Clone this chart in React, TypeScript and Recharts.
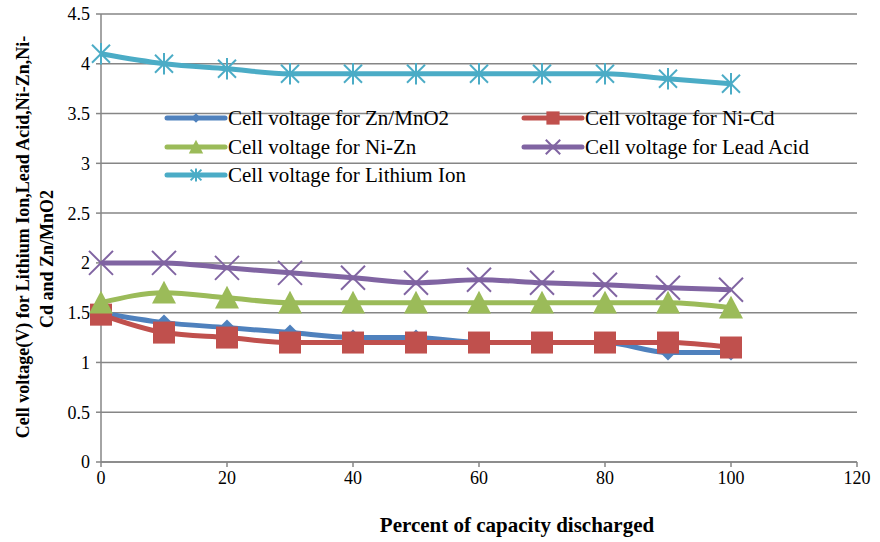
import { LineChart, Line, XAxis, YAxis, CartesianGrid } from 'recharts';

const percent = [0, 10, 20, 30, 40, 50, 60, 70, 80, 90, 100];
const znMnO2 = [1.5, 1.4, 1.35, 1.3, 1.25, 1.25, 1.2, 1.2, 1.2, 1.1, 1.1];
const niCd = [1.48, 1.3, 1.25, 1.2, 1.2, 1.2, 1.2, 1.2, 1.2, 1.2, 1.15];
const niZn = [1.6, 1.7, 1.65, 1.6, 1.6, 1.6, 1.6, 1.6, 1.6, 1.6, 1.55];
const leadAcid = [2.0, 2.0, 1.95, 1.9, 1.85, 1.8, 1.83, 1.8, 1.78, 1.75, 1.73];
const lithiumIon = [4.1, 4.0, 3.95, 3.9, 3.9, 3.9, 3.9, 3.9, 3.9, 3.85, 3.8];

const xTicks = [0, 20, 40, 60, 80, 100, 120];
const yTicks = [0, 0.5, 1, 1.5, 2, 2.5, 3, 3.5, 4, 4.5];

const data = percent.map((p, i) => ({
  p,
  zn: znMnO2[i],
  nicd: niCd[i],
  nizn: niZn[i],
  lead: leadAcid[i],
  li: lithiumIon[i],
}));

const FONT = '"Liberation Serif", "Times New Roman", serif';

type Shape = 'diamond' | 'square' | 'triangle' | 'x' | 'star';

const series: { key: string; name: string; color: string; shape: Shape }[] = [
  { key: 'zn', name: 'Cell voltage for Zn/MnO2', color: '#4F81BD', shape: 'diamond' },
  { key: 'nicd', name: 'Cell voltage for Ni-Cd', color: '#C0504D', shape: 'square' },
  { key: 'nizn', name: 'Cell voltage for Ni-Zn', color: '#9BBB59', shape: 'triangle' },
  { key: 'lead', name: 'Cell voltage for Lead Acid', color: '#8064A2', shape: 'x' },
  { key: 'li', name: 'Cell voltage for Lithium Ion', color: '#4BACC6', shape: 'star' },
];

function Marker({ cx, cy, shape, color, s = 1 }: { cx: number; cy: number; shape: Shape; color: string; s?: number }) {
  if (cx == null || cy == null) return null;
  switch (shape) {
    case 'diamond': {
      const r = 8 * s;
      return <polygon points={`${cx},${cy - r} ${cx + r},${cy} ${cx},${cy + r} ${cx - r},${cy}`} fill={color} />;
    }
    case 'square': {
      const r = 11 * s;
      return <rect x={cx - r} y={cy - r} width={r * 2} height={r * 2} fill={color} />;
    }
    case 'triangle': {
      const r = 12 * s;
      return <polygon points={`${cx},${cy - r} ${cx + r},${cy + r * 0.9} ${cx - r},${cy + r * 0.9}`} fill={color} />;
    }
    case 'x': {
      const r = 12 * s;
      return (
        <g stroke={color} strokeWidth={2}>
          <line x1={cx - r} y1={cy - r} x2={cx + r} y2={cy + r} />
          <line x1={cx - r} y1={cy + r} x2={cx + r} y2={cy - r} />
        </g>
      );
    }
    case 'star': {
      const r = 9 * s;
      return (
        <g stroke={color} strokeWidth={2}>
          <line x1={cx - r} y1={cy - r} x2={cx + r} y2={cy + r} />
          <line x1={cx - r} y1={cy + r} x2={cx + r} y2={cy - r} />
          <line x1={cx} y1={cy - r * 1.2} x2={cx} y2={cy + r * 1.2} />
        </g>
      );
    }
  }
  return null;
}

const makeDot = (shape: Shape, color: string) => (props: any) => (
  <Marker key={`${shape}-${props.index}`} cx={props.cx} cy={props.cy} shape={shape} color={color} />
);

// legend sits inside the plot, two columns like the original
const LegendBox = () => {
  const pos = [
    { left: 0, top: 0 },
    { left: 357, top: 0 },
    { left: 0, top: 28.5 },
    { left: 357, top: 28.5 },
    { left: 0, top: 57 },
  ];
  return (
    <div style={{ position: 'absolute', left: 164, top: 105, width: 680, height: 84 }}>
      {series.map((s, i) => (
        <div
          key={s.key}
          style={{ position: 'absolute', left: pos[i].left, top: pos[i].top, height: 26, display: 'flex', alignItems: 'center', whiteSpace: 'nowrap' }}
        >
          <svg width={64} height={24} style={{ display: 'block' }}>
            <line x1={3} y1={12} x2={61} y2={12} stroke={s.color} strokeWidth={5} strokeLinecap="round" />
            <Marker cx={32} cy={12} shape={s.shape} color={s.color} s={0.6} />
          </svg>
          <span style={{ fontFamily: FONT, fontSize: 21, lineHeight: '26px', color: '#000' }}>{s.name}</span>
        </div>
      ))}
    </div>
  );
};

const YLabel = () => (
  <g fontFamily={FONT} fontWeight="bold" fontSize={18} fill="#000">
    <text transform="translate(29,237) rotate(-90)" textAnchor="middle">
      Cell voltage(V) for Lithium Ion,Lead Acid,Ni-Zn,Ni-
    </text>
    <text transform="translate(53,259) rotate(-90)" textAnchor="middle">
      Cd and Zn/MnO2
    </text>
  </g>
);

const XLabel = () => (
  <text x={517} y={532} textAnchor="middle" fontFamily={FONT} fontWeight="bold" fontSize={21} fill="#000">
    Percent of capacity discharged
  </text>
);

export default function App() {
  const tickStyle = { fontFamily: FONT, fontSize: 18, fill: '#000' };
  return (
    <div style={{ position: 'absolute', left: 0, top: 0, width: 880, height: 542, background: '#fff' }}>
      <LineChart width={880} height={542} data={data} margin={{ top: 14, right: 23, bottom: 0, left: 0 }}>
        <CartesianGrid vertical={false} stroke="#868686" strokeWidth={1.5} />
        <XAxis
          dataKey="p"
          type="number"
          domain={[0, 120]}
          ticks={xTicks}
          height={80}
          tick={tickStyle}
          tickSize={5}
          tickMargin={4}
          stroke="#868686"
          strokeWidth={1.5}
          label={<XLabel />}
        />
        <YAxis
          type="number"
          domain={[0, 4.5]}
          ticks={yTicks}
          width={101}
          tick={tickStyle}
          tickSize={5}
          tickMargin={6}
          stroke="#868686"
          strokeWidth={1.5}
          label={<YLabel />}
        />
        {series.map((s) => (
          <Line
            key={s.key}
            dataKey={s.key}
            name={s.name}
            type="monotone"
            stroke={s.color}
            strokeWidth={5}
            dot={makeDot(s.shape, s.color)}
            activeDot={false}
            isAnimationActive={false}
          />
        ))}
      </LineChart>
      <LegendBox />
    </div>
  );
}
